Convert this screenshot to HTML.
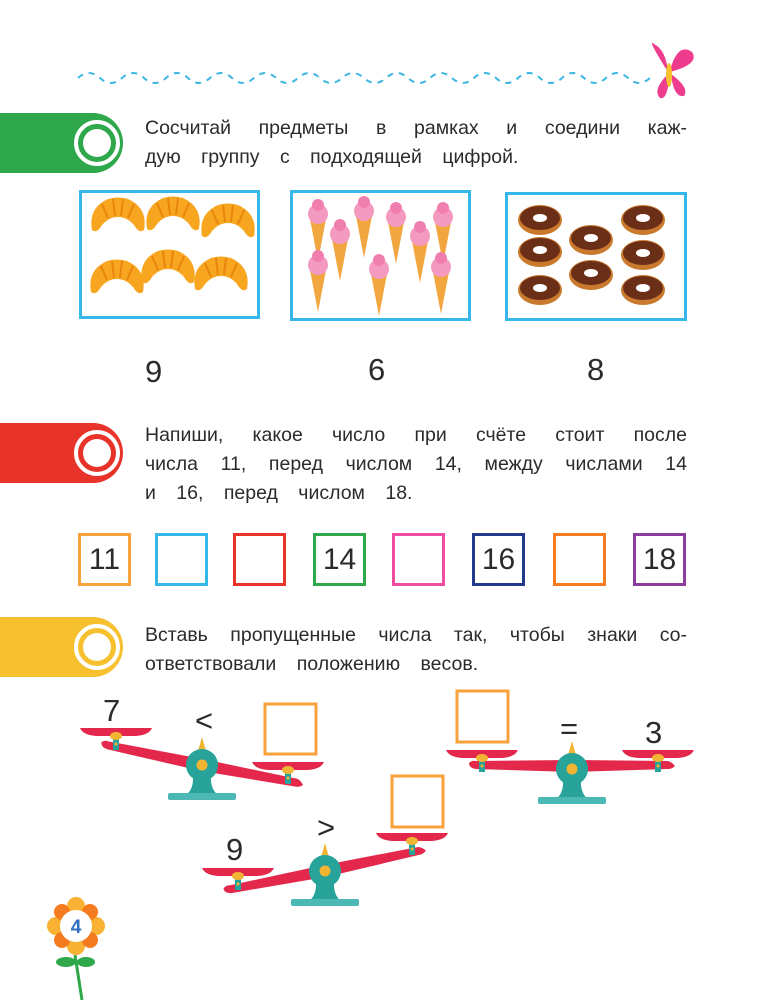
<!DOCTYPE html>
<html><head><meta charset="utf-8"><style>
body{margin:0;background:#fff;}
#p{position:relative;width:759px;height:1000px;overflow:hidden;font-family:"Liberation Sans","DejaVu Sans",sans-serif;color:#2b2b2b;}
.t{position:absolute;left:145px;width:542px;font-size:19.5px;line-height:29px;text-align:justify;text-align-last:justify;}
.t.l{text-align-last:left;word-spacing:15px;}
.n{position:absolute;font-size:31px;}
.sq{position:absolute;top:533px;width:47px;height:47px;border:3px solid;font-size:30px;line-height:48px;text-align:center;}
.bx{position:absolute;border:3px solid #35b7e8;}
</style></head><body><div id="p">
<svg width="759" height="1000" style="position:absolute;left:0;top:0">
<defs>
<g id="ring"><circle r="21" fill="none" stroke="#fff" stroke-width="4"/><circle r="14" fill="#fff"/></g>
<g id="pan"><path d="M-36,-20 L36,-20 Q33,-13 20,-12 L-20,-12 Q-33,-13 -36,-20Z" fill="#e3284b"/><rect x="-3" y="-13" width="6" height="15" fill="#27a39a"/><ellipse cx="0" cy="-12" rx="6" ry="4" fill="#f2b533"/><circle cx="0" cy="-4" r="1.5" fill="#f2b533"/></g>
<g id="stand"><path d="M-4,-14 L0,-28 L4,-14Z" fill="#f2b533"/><path d="M-9,10 Q-8,24 -16,30 L16,30 Q8,24 9,10Z" fill="#27a39a"/><rect x="-34" y="28" width="68" height="7" rx="2" fill="#4bb8b5"/></g>
<g id="beam"><path d="M-103,-3 Q-100,-6 -96,-5 L0,-6 L96,-5 Q100,-4 103,0 Q100,3 96,3 L0,6 L-96,3 Q-103,2 -103,-3Z" fill="#e3284b"/></g>
<g id="hub"><circle r="16" fill="#27a39a"/><circle r="5.5" fill="#f2b533"/></g>
<g id="cro"><path d="M-26,12 Q-30,-10 -10,-19 Q0,-22 10,-19 Q30,-10 26,12 Q21,16 16,7 Q9,-1 0,-1 Q-9,-1 -16,7 Q-21,16 -26,12Z" fill="#f8a51f"/><path d="M-16,-14 L-10,0 M-5,-19 L-3,-2 M5,-19 L3,-2 M16,-14 L10,0" stroke="#e8850c" stroke-width="2"/></g>
<g id="ice"><path d="M-8,4 L8,4 L0,46Z" fill="#f2a640"/><circle cx="0" cy="-1" r="10" fill="#f49ac0"/><circle cx="0" cy="-10" r="6" fill="#f07fb0"/></g>
<g id="don"><ellipse rx="22" ry="15" fill="#c97a2e"/><ellipse rx="20" ry="12" cy="-2" fill="#6b2f18"/><ellipse rx="7" ry="4" cy="-2" fill="#fff"/></g>
</defs>
<path d="M78,78 q11,-10 22,0 t22,0 t22,0 t22,0 t22,0 t22,0 t22,0 t22,0 t22,0 t22,0 t22,0 t22,0 t22,0 t22,0 t22,0 t22,0 t22,0 t22,0 t22,0 t22,0 t22,0 t22,0 t22,0 t22,0 t22,0 t22,0" fill="none" stroke="#3bb6e4" stroke-width="2" stroke-dasharray="6,6"/>
<g transform="translate(668,72)"><path d="M0,0 Q-22,-35 -14,-28 Q-2,-22 0,0Z" fill="#ee3c8e"/><path d="M2,-2 Q10,-30 24,-20 Q32,-8 2,0Z" fill="#ee3c8e"/><path d="M0,2 Q-16,18 -8,26 Q0,28 1,4Z" fill="#ee3c8e"/><path d="M3,2 Q22,16 16,24 Q6,26 3,3Z" fill="#ee3c8e"/><ellipse cx="1" cy="3" rx="3" ry="12" fill="#f6c02f"/></g>
<path d="M0,113 H93 A30,30 0 0 1 93,173 H0Z" fill="#2ea84a"/><use href="#ring" x="97" y="143"/>
<path d="M0,423 H93 A30,30 0 0 1 93,483 H0Z" fill="#e8332a"/><use href="#ring" x="97" y="453"/>
<path d="M0,617 H93 A30,30 0 0 1 93,677 H0Z" fill="#f6c02f"/><use href="#ring" x="97" y="647"/>
<use href="#cro" x="118" y="218"/><use href="#cro" x="173" y="217"/><use href="#cro" x="228" y="224"/><use href="#cro" x="117" y="280"/><use href="#cro" x="168" y="270"/><use href="#cro" x="221" y="277"/>
<use href="#ice" x="318" y="215"/><use href="#ice" x="364" y="212"/><use href="#ice" x="396" y="218"/><use href="#ice" x="443" y="218"/><use href="#ice" x="340" y="235"/><use href="#ice" x="420" y="237"/><use href="#ice" x="318" y="266"/><use href="#ice" x="379" y="270"/><use href="#ice" x="441" y="268"/>
<use href="#don" x="540" y="220"/><use href="#don" x="643" y="220"/><use href="#don" x="591" y="240"/><use href="#don" x="540" y="252"/><use href="#don" x="643" y="255"/><use href="#don" x="591" y="275"/><use href="#don" x="540" y="290"/><use href="#don" x="643" y="290"/>
<use href="#stand" x="202" y="765"/><g transform="translate(202,765) rotate(11.2)"><use href="#beam"/></g><use href="#hub" x="202" y="765"/><use href="#pan" x="116" y="748"/><use href="#pan" x="288" y="782"/>
<use href="#stand" x="572" y="769"/><use href="#beam" x="572" y="766"/><use href="#hub" x="572" y="769"/><use href="#pan" x="482" y="770"/><use href="#pan" x="658" y="770"/>
<use href="#stand" x="325" y="871"/><g transform="translate(325,871) rotate(-11.5)"><use href="#beam"/></g><use href="#hub" x="325" y="871"/><use href="#pan" x="238" y="888"/><use href="#pan" x="412" y="853"/>
<rect x="265" y="704" width="51" height="50" fill="none" stroke="#f7a23a" stroke-width="3"/>
<rect x="457" y="691" width="51" height="51" fill="none" stroke="#f7a23a" stroke-width="3"/>
<rect x="392" y="776" width="51" height="51" fill="none" stroke="#f7a23a" stroke-width="3"/>
<path d="M82,1000 L75,955" stroke="#2ea84a" stroke-width="3"/><ellipse cx="66" cy="962" rx="10" ry="5" fill="#2ea84a"/><ellipse cx="86" cy="962" rx="9" ry="5" fill="#2ea84a"/>
<g transform="translate(76,926)" fill="#f9b233"><circle cx="0" cy="-20" r="9"/><circle cx="0" cy="20" r="9"/><circle cx="-20" cy="0" r="9"/><circle cx="20" cy="0" r="9"/><circle cx="14" cy="14" r="8" fill="#f47b20"/><circle cx="-14" cy="14" r="8" fill="#f47b20"/><circle cx="14" cy="-14" r="8" fill="#f47b20"/><circle cx="-14" cy="-14" r="8" fill="#f47b20"/><circle r="16" fill="#fff"/><text x="0" y="7" text-anchor="middle" font-size="19" font-weight="bold" fill="#2f6fbf" font-family="Liberation Sans">4</text></g>
</svg>
<div class="t" style="top:114px">Сосчитай предметы в рамках и соедини каж-</div>
<div class="t l" style="top:143px">дую группу с подходящей цифрой.</div>
<div class="bx" style="left:79px;top:190px;width:175px;height:123px"></div>
<div class="bx" style="left:290px;top:190px;width:175px;height:125px"></div>
<div class="bx" style="left:505px;top:192px;width:176px;height:123px"></div>
<div class="n" style="left:145px;top:354px">9</div><div class="n" style="left:368px;top:352px">6</div><div class="n" style="left:587px;top:352px">8</div>
<div class="t" style="top:421px">Напиши, какое число при счёте стоит после</div>
<div class="t" style="top:450px">числа 11, перед числом 14, между числами 14</div>
<div class="t l" style="top:479px">и 16, перед числом 18.</div>
<div class="sq" style="left:78px;border-color:#f7a23a">11</div>
<div class="sq" style="left:155px;border-color:#35b7e8"></div>
<div class="sq" style="left:233px;border-color:#e8332a"></div>
<div class="sq" style="left:313px;border-color:#2ea84a">14</div>
<div class="sq" style="left:392px;border-color:#ee4c9e"></div>
<div class="sq" style="left:472px;border-color:#233a8c">16</div>
<div class="sq" style="left:553px;border-color:#f47b20"></div>
<div class="sq" style="left:633px;border-color:#8a3d9c">18</div>
<div class="t" style="top:621px">Вставь пропущенные числа так, чтобы знаки со-</div>
<div class="t l" style="top:650px">ответствовали положению весов.</div>
<div class="n" style="left:103px;top:693px">7</div>
<div class="n" style="left:195px;top:703px">&lt;</div>
<div class="n" style="left:560px;top:711px">=</div>
<div class="n" style="left:645px;top:715px">3</div>
<div class="n" style="left:226px;top:832px">9</div>
<div class="n" style="left:317px;top:810px">&gt;</div>
</div></body></html>
